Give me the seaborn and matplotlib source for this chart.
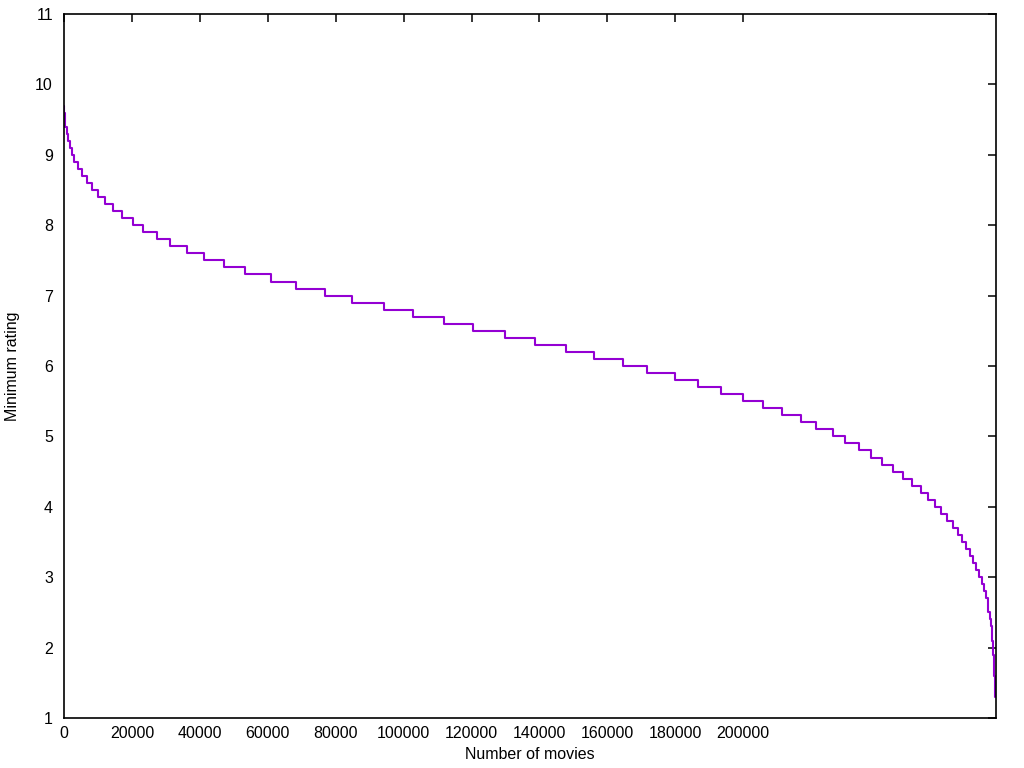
import matplotlib
matplotlib.use("Agg")
import matplotlib.pyplot as plt
import seaborn as sns
import pandas as pd
import numpy as np

# Minimum rating levels (step values)
min_rating = [9.7, 9.6, 9.5, 9.4, 9.3, 9.2, 9.1, 9.0, 8.9, 8.8, 8.7, 8.6, 8.5, 8.4,
              8.3, 8.2, 8.1, 8.0, 7.9, 7.8, 7.7, 7.6, 7.5, 7.4, 7.3, 7.2, 7.1, 7.0,
              6.9, 6.8, 6.7, 6.6, 6.5, 6.4, 6.3, 6.2, 6.1, 6.0, 5.9, 5.8, 5.7, 5.6,
              5.5, 5.4, 5.3, 5.2, 5.1, 5.0, 4.9, 4.8, 4.7, 4.6, 4.5, 4.4, 4.3, 4.2,
              4.1, 4.0, 3.9, 3.8, 3.7, 3.6, 3.5, 3.4, 3.3, 3.2, 3.1, 3.0, 2.9, 2.8,
              2.7, 2.6, 2.5, 2.4, 2.3, 2.2, 2.1, 2.0, 1.9, 1.8, 1.7, 1.6, 1.5, 1.4, 1.3]

# Number of movies with rating >= each level (cumulative)
movie_counts = [100, 200, 300, 785, 1276, 1669, 2258, 3044, 4222, 5303, 6678, 8249,
                10016, 12078, 14435, 17087, 20229, 23175, 27398, 31228, 36236, 41244,
                47136, 53323, 60982, 68250, 76891, 84845, 94272, 102717, 111849, 120393,
                129917, 138659, 147792, 156041, 164584, 171655, 180001, 186679, 193553,
                199935, 205827, 211425, 217022, 221541, 226353, 230077, 234207, 237742,
                240983, 244223, 247169, 249821, 252472, 254534, 256597, 258364, 260132,
                261899, 263274, 264550, 265729, 266809, 267791, 268675, 269559, 270300,
                270900, 271500, 271950, 272210, 272550, 273050, 273200, 273350, 273500,
                273650, 273800, 273900, 273970, 274020, 274050, 274070, 274250]

x_ticks = [0, 20000, 40000, 60000, 80000, 100000, 120000, 140000, 160000, 180000, 200000]
y_ticks = [1, 2, 3, 4, 5, 6, 7, 8, 9, 10, 11]

sns.set_theme(style="white")
plt.rcParams["font.family"] = ["Liberation Sans", "DejaVu Sans"]

df = pd.DataFrame({
    "movies": [0] + movie_counts,
    "rating": [min_rating[0]] + min_rating,
})

fig = plt.figure(figsize=(10.24, 7.68), dpi=100)
ax = fig.add_axes([64/1024, 1 - 718/768, (996 - 64)/1024, (718 - 14)/768])

sns.lineplot(data=df, x="movies", y="rating", ax=ax, drawstyle="steps-pre",
             estimator=None, sort=False, color="#9400D3", linewidth=1.5)

ax.set_xlim(0, 274450)
ax.set_ylim(1, 11)
ax.set_xticks(x_ticks)
ax.set_xticklabels([str(t) for t in x_ticks])
ax.set_yticks(y_ticks)
ax.set_yticklabels([str(t) for t in y_ticks])

ax.tick_params(axis="both", which="major", direction="in", length=5.5, width=1.1,
               top=True, right=True, labelsize=11.5, colors="black", pad=6)
ax.tick_params(axis="y", pad=8)

for s in ax.spines.values():
    s.set_visible(True)
    s.set_color("black")
    s.set_linewidth(1.2)

ax.set_xlabel("Number of movies", fontsize=11.5, color="black", labelpad=4)
ax.set_ylabel("Minimum rating", fontsize=11.5, color="black", labelpad=11)
ax.grid(False)

fig.savefig("out.png", dpi=100, facecolor="white")
